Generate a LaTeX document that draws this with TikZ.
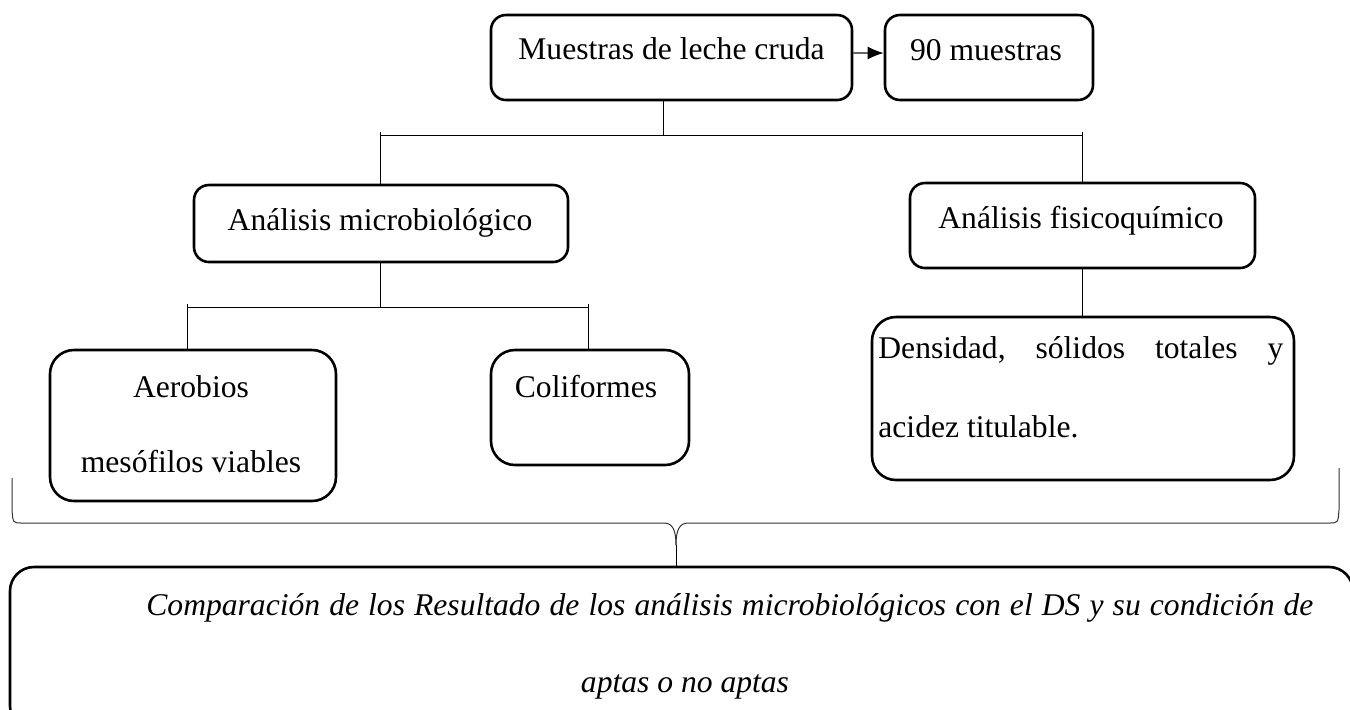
\documentclass[tikz,border=0pt]{standalone}
\usepackage{fontspec}
\setmainfont{Liberation Serif}
\usetikzlibrary{fit,arrows.meta}
\begin{document}
\begin{tikzpicture}[x=0.5pt,y=-0.5pt,
  box/.style={draw, line width=1.3pt, rounded corners=7.5pt, inner sep=0pt},
  bigbox/.style={box, rounded corners=12pt},
  conn/.style={draw, line width=0.5pt},
  arr/.style={draw=black!60, line width=0.7pt, -{Latex[length=8pt,width=6.5pt,black]}},
  lbl/.style={anchor=base, inner sep=0pt, font=\fontsize{15.8}{18}\selectfont},
  lbll/.style={lbl, anchor=base west}]
\useasboundingbox (0,0) rectangle (1350,709);
\clip (0,0) rectangle (1350,709);
% row 1
\node[box, fit={(491,15) (852,100)}] (A) {};
\node[lbl] (tA) at (671.5,59) {Muestras de leche cruda};
\node[box, fit={(885,15) (1093,100)}] (B) {};
\node[lbl] (tB) at (986,60) {90 muestras};
\draw[arr] (A.east |- 0,53) coordinate (a0) -- (B.west |- a0);
% row 2
\node[box, fit={(194,185) (568,262)}] (M) {};
\node[lbl] (tM) at (380,230) {Análisis microbiológico};
\node[box, fit={(910,183) (1255,268)}] (F) {};
\node[lbl] (tF) at (1081,228) {Análisis fisicoquímico};
% row 3
\node[bigbox, fit={(50,350) (336,501)}] (Ae) {};
\node[lbl] (tAe1) at (191,397) {Aerobios};
\node[lbl] (tAe2) at (191,472) {mesófilos viables};
\node[bigbox, fit={(491,350) (689,465)}] (Co) {};
\node[lbl] (tCo) at (586,397) {Coliformes};
\node[bigbox, fit={(872,317) (1294,480)}] (D) {};
\node[lbll] (tD1) at (878,358) {\hbox to 202.5pt{Densidad,\hfill sólidos\hfill totales\hfill y}};
\node[lbll] (tD2) at (878,437) {acidez titulable.};
% bottom
\node[box, rounded corners=12pt, fit={(10,567) (1353,730)}] (E) {};
\node[lbll, font=\fontsize{15.8}{18}\selectfont\itshape] (tE1) at (146,615) {\hbox to 583.5pt{Comparación de los Resultado de los análisis microbiológicos con el DS y su condición de}};
\node[lbl, font=\fontsize{15.8}{18}\selectfont\itshape] (tE2) at (685,692) {aptas o no aptas};
% connectors
\coordinate (j1) at (663,135);
\coordinate (jL) at (380,135);
\coordinate (jR) at (1082,135);
\draw[conn] (A.south -| j1) -- (j1);
\draw[conn] (jL) -- (jR);
\draw[conn] ([yshift=1.5pt]jL) -- (jL |- M.north);
\draw[conn] ([yshift=1.5pt]jR) -- (jR |- F.north);
\coordinate (k) at (380,307);
\coordinate (kL) at (187,307);
\coordinate (kR) at (588,307);
\draw[conn] (M.south -| k) -- (k);
\draw[conn] (kL) -- (kR);
\draw[conn] ([yshift=1.5pt]kL) -- (kL |- Ae.north);
\draw[conn] ([yshift=1.5pt]kR) -- (kR |- Co.north);
\draw[conn] (F.south) -- (F.south |- D.north);
% brace
\coordinate (bl) at (12,478);
\coordinate (br) at (1339,468);
\coordinate (tip) at (676,545);
\draw[conn, draw=black!80] (bl) -- (12,510) .. controls (13,523) .. (22,523) -- (664,523) .. controls (673,523) and (676,531) .. (tip);
\draw[conn, draw=black!80] (br) -- (1339,510) .. controls (1338,523) .. (1329,523) -- (688,523) .. controls (679,523) and (676,531) .. (tip);
\draw[conn] (tip) -- (tip |- E.north);
\end{tikzpicture}
\end{document}
